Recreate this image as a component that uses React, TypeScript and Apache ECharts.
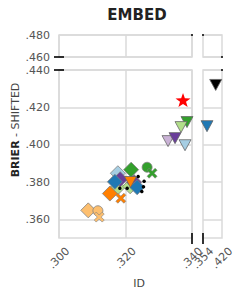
import React, { useEffect, useRef } from 'react';
import * as echarts from 'echarts';

// ---- tick values ----
const yTicksLower = [0.36, 0.38, 0.4, 0.42, 0.44];
const yTicksUpper = [0.46, 0.48];
const xTicksLeft = [0.3, 0.32, 0.34];
const xTicksRight = [0.354, 0.42];

// ---- data (ID, Brier-shifted) ----
const triangleX = [0.3981, 0.3385, 0.3367, 0.3679, 0.3328, 0.3349, 0.3379, 0.3215];
const triangleY = [0.432, 0.4121, 0.4094, 0.4099, 0.4019, 0.4035, 0.3997, 0.38];
const triangleColor = ['#000000', '#33a02c', '#b2df8a', '#1f78b4', '#cab2d6', '#6a3d9a', '#a6cee3', '#ff7f00'];

const starX = [0.3373];
const starY = [0.4239];
const starColor = ['#ff0000'];

const diamondX = [0.3177, 0.3214, 0.3088, 0.3177, 0.3184, 0.3168, 0.3153, 0.3217, 0.3226, 0.3235];
const diamondY = [0.3772, 0.3777, 0.3648, 0.3847, 0.3815, 0.3801, 0.3738, 0.3866, 0.3799, 0.3772];
const diamondColor = ['#b2df8a', '#b2df8a', '#fdbf6f', '#a6cee3', '#6a3d9a', '#1f78b4', '#ff7f00', '#33a02c', '#6a3d9a', '#1f78b4'];

const ringX = [0.3265, 0.3117];
const ringY = [0.3879, 0.3646];
const ringColor = ['#33a02c', '#fdbf6f'];

const crossX = [0.328, 0.3186, 0.3121];
const crossY = [0.3847, 0.3713, 0.3612];
const crossColor = ['#33a02c', '#ff7f00', '#fdbf6f'];

const dotX = [0.3183, 0.3205, 0.3238, 0.3256, 0.3254, 0.3249];
const dotY = [0.3767, 0.3767, 0.3829, 0.3804, 0.3775, 0.3749];
const dotColor = ['#000000', '#000000', '#000000', '#000000', '#000000', '#000000'];

const FONT = '"DejaVu Sans", sans-serif';
const GRID_LINE = { color: '#dadada', width: 1.5 };
const STAR_PATH = 'path://M0,-10L2.35,-3.24L9.51,-3.09L3.8,1.24L5.88,8.09L0,4L-5.88,8.09L-3.8,1.24L-9.51,-3.09L-2.35,-3.24Z';
const X_PATH = 'path://M-10,-6L-6,-10L0,-4L6,-10L10,-6L4,0L10,6L6,10L0,4L-6,10L-10,6L-4,0Z';

const fmt = (v: number) => '.' + String(Math.round(v * 1000)).padStart(3, '0');

function makeSeries(
  xs: number[], ys: number[], cs: string[], symbol: string, size: any,
  border: { c: string; w: number }, rotate = 0
) {
  const items = xs.map((x, i) => ({ value: [x, ys[i]], itemStyle: { color: cs[i] } }));
  const left = items.filter((d) => d.value[0] <= 0.345);
  const right = items.filter((d) => d.value[0] > 0.345);
  const base = {
    type: 'scatter',
    symbol,
    symbolSize: size,
    symbolRotate: rotate,
    itemStyle: { borderColor: border.c, borderWidth: border.w, opacity: 1 },
    emphasis: { disabled: true },
    silent: true,
    clip: true,
  };
  const out: any[] = [];
  if (left.length) out.push({ ...base, xAxisIndex: 2, yAxisIndex: 2, data: left });
  if (right.length) out.push({ ...base, xAxisIndex: 3, yAxisIndex: 3, data: right });
  return out;
}

function buildOption() {
  const gridBase = { show: true, borderColor: '#dadada', borderWidth: 1.5, backgroundColor: 'transparent', containLabel: false, outerBoundsMode: 'none' };
  const labelStyle = { color: '#555', fontSize: 11, fontFamily: FONT };
  const hidden = { show: false };

  const xAxis = [
    { gridIndex: 0, type: 'value', min: 0.3, max: 0.34, axisLine: hidden, axisTick: { show: false, customValues: xTicksLeft }, axisLabel: { show: false, customValues: xTicksLeft }, splitLine: { show: true, lineStyle: GRID_LINE } },
    { gridIndex: 1, type: 'value', min: 0.354, max: 0.42, axisLine: hidden, axisTick: { show: false, customValues: xTicksRight }, axisLabel: { show: false, customValues: xTicksRight }, splitLine: { show: false } },
    { gridIndex: 2, type: 'value', min: 0.3, max: 0.34, axisLine: hidden, axisTick: { show: false, customValues: xTicksLeft }, axisLabel: { show: true, customValues: xTicksLeft, rotate: 45, align: 'center', verticalAlign: 'middle', margin: 20, formatter: fmt, ...labelStyle }, splitLine: { show: true, lineStyle: GRID_LINE } },
    { gridIndex: 3, type: 'value', min: 0.354, max: 0.42, axisLine: hidden, axisTick: { show: false, customValues: xTicksRight }, axisLabel: { show: true, customValues: xTicksRight, rotate: 45, align: 'center', verticalAlign: 'middle', margin: 20, formatter: fmt, ...labelStyle }, splitLine: { show: false } },
  ];
  const yAxis = [
    { gridIndex: 0, type: 'value', min: 0.46, max: 0.48, axisLine: hidden, axisTick: { show: false, customValues: yTicksUpper }, axisLabel: { show: true, customValues: yTicksUpper, margin: 9, formatter: fmt, ...labelStyle }, splitLine: { show: true, lineStyle: GRID_LINE } },
    { gridIndex: 1, type: 'value', min: 0.46, max: 0.48, axisLine: hidden, axisTick: { show: false, customValues: yTicksUpper }, axisLabel: { show: false, customValues: yTicksUpper }, splitLine: { show: true, lineStyle: GRID_LINE } },
    { gridIndex: 2, type: 'value', min: 0.35, max: 0.44, axisLine: hidden, axisTick: { show: false, customValues: yTicksLower }, axisLabel: { show: true, customValues: yTicksLower, margin: 9, formatter: fmt, ...labelStyle }, splitLine: { show: true, lineStyle: GRID_LINE } },
    { gridIndex: 3, type: 'value', min: 0.35, max: 0.44, axisLine: hidden, axisTick: { show: false, customValues: yTicksLower }, axisLabel: { show: false, customValues: yTicksLower }, splitLine: { show: true, lineStyle: GRID_LINE } },
  ];

  const series = [
    ...makeSeries(diamondX, diamondY, diamondColor, 'diamond', 15, { c: '#808080', w: 0.8 }),
    ...makeSeries(ringX, ringY, ringColor, 'circle', 10, { c: '#808080', w: 0.8 }),
    ...makeSeries(crossX, crossY, crossColor, X_PATH, 10, { c: '#808080', w: 0.6 }),
    ...makeSeries(dotX, dotY, dotColor, 'circle', 3.5, { c: '#000', w: 0 }),
    ...makeSeries(triangleX, triangleY, triangleColor, 'triangle', [12, 11], { c: '#666', w: 0.8 }, 180),
    ...makeSeries(starX, starY, starColor, STAR_PATH, [15, 14], { c: '#ff0000', w: 0 }),
  ];

  const brk = (x1: number, y1: number, x2: number, y2: number) => ({
    type: 'line', shape: { x1, y1, x2, y2 }, style: { stroke: '#000', lineWidth: 1.6 }, z: 100, silent: true,
  });

  const graphic = [
    { type: 'text', x: 137, y: 15, z: 100, style: { text: 'EMBED', fontSize: 15, fontWeight: 'bold', fontFamily: FONT, fill: '#222', align: 'center', verticalAlign: 'middle', textAlign: 'center', textVerticalAlign: 'middle' } },
    { type: 'text', x: 15, y: 130, rotation: Math.PI / 2, z: 100, style: { text: '{b|BRIER}{n| - SHIFTED}', rich: { b: { fontSize: 11, fontWeight: 'bold', fontFamily: FONT, fill: '#222' }, n: { fontSize: 11, fontFamily: FONT, fill: '#444' } }, align: 'center', verticalAlign: 'middle', textAlign: 'center', textVerticalAlign: 'middle' } },
    { type: 'text', x: 139, y: 283, z: 100, style: { text: 'ID', fontSize: 11, fontFamily: FONT, fill: '#444', align: 'center', verticalAlign: 'middle', textAlign: 'center', textVerticalAlign: 'middle' } },
    brk(54, 57, 64, 57),
    brk(54, 70, 64, 70),
    brk(192, 233, 192, 244),
    brk(203, 233, 203, 244),
    brk(191, 35, 193, 35),
    brk(202, 35, 204, 35),
    brk(221, 57, 223, 57),
    brk(221, 70, 223, 70),
  ];

  return {
    animation: false,
    backgroundColor: '#ffffff',
    grid: [
      { ...gridBase, left: 59, top: 35, width: 133, height: 22 },
      { ...gridBase, left: 203, top: 35, width: 19, height: 22 },
      { ...gridBase, left: 59, top: 70, width: 133, height: 168 },
      { ...gridBase, left: 203, top: 70, width: 19, height: 168 },
    ],
    xAxis,
    yAxis,
    series,
    graphic,
  };
}

export default function App() {
  const ref = useRef<HTMLDivElement>(null);
  useEffect(() => {
    if (!ref.current) return;
    const chart = echarts.init(ref.current, undefined, { renderer: 'svg' });
    chart.setOption(buildOption() as any);
    return () => chart.dispose();
  }, []);
  return <div ref={ref} style={{ position: 'fixed', left: 0, top: 0, width: 244, height: 299 }} />;
}
